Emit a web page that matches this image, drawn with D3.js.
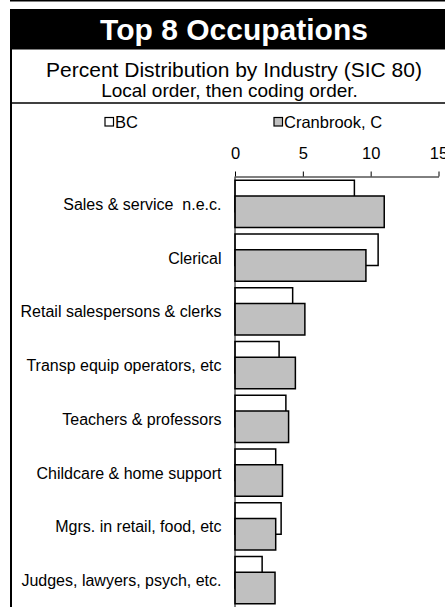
<!DOCTYPE html>
<html>
<head>
<meta charset="utf-8">
<script src="https://cdn.jsdelivr.net/npm/d3@7"></script>
<style>
  body { margin: 0; background: #fff; }
  svg { display: block; font-family: Arial, "Liberation Sans", sans-serif; }
</style>
</head>
<body>
<svg id="chart" width="445" height="607"></svg>
<script>
// data
const categories = [
  "Sales & service  n.e.c.",
  "Clerical",
  "Retail salespersons & clerks",
  "Transp equip operators, etc",
  "Teachers & professors",
  "Childcare & home support",
  "Mgrs. in retail, food, etc",
  "Judges, lawyers, psych, etc."
];
const seriesNames = ["BC", "Cranbrook, C"];
const bcValues = [8.8, 10.55, 4.25, 3.25, 3.75, 3.0, 3.4, 2.0];
const cranValues = [11.0, 9.65, 5.15, 4.45, 3.95, 3.5, 3.0, 2.95];
const tickValues = [0, 5, 10, 15];

const svg = d3.select("#chart");
const W = 445, H = 607;

// top rule + title band
svg.append("rect").attr("x", 10).attr("y", 0).attr("width", W - 10).attr("height", 1.5).attr("fill", "#000");
svg.append("rect").attr("x", 10).attr("y", 9).attr("width", W - 10).attr("height", 40.5).attr("fill", "#000");
svg.append("text")
  .attr("x", 234).attr("y", 40)
  .attr("text-anchor", "middle")
  .attr("fill", "#fff")
  .style("font-size", "30px").style("font-weight", "bold")
  .text("Top 8 Occupations");

// box borders
svg.append("line").attr("x1", 11).attr("x2", 11).attr("y1", 49).attr("y2", H)
  .attr("stroke", "#000").attr("stroke-width", 2);
svg.append("line").attr("x1", 10).attr("x2", W).attr("y1", 103).attr("y2", 103)
  .attr("stroke", "#000").attr("stroke-width", 1.5);

svg.append("text")
  .attr("x", 234).attr("y", 77)
  .attr("text-anchor", "middle")
  .style("font-size", "21px")
  .text("Percent Distribution by Industry (SIC 80)");
svg.append("text")
  .attr("x", 229.5).attr("y", 97)
  .attr("text-anchor", "middle")
  .style("font-size", "19px")
  .text("Local order, then coding order.");

// scales
const x = d3.scaleLinear().domain([0, 15]).range([235, 438.5]);
const y = d3.scaleBand().domain(categories).range([177, 607]).paddingInner(0).paddingOuter(0);
const barH = 31.5;
const groupOffset = (y.bandwidth() - barH * 1.5) / 2;

// legend
const legend = [
  {name: seriesNames[0], fill: "#fff", x: 105},
  {name: seriesNames[1], fill: "#c0c0c0", x: 274}
];
legend.forEach(d => {
  svg.append("rect").attr("x", d.x).attr("y", 117.5).attr("width", 8.5).attr("height", 8.5)
    .attr("fill", d.fill).attr("stroke", "#000").attr("stroke-width", 1.2);
  svg.append("text").attr("x", d.x + 10).attr("y", 127.5)
    .style("font-size", "16.5px").text(d.name);
});

// top axis
const axis = d3.axisTop(x).tickValues(tickValues).tickSize(5).tickPadding(13).tickSizeOuter(0);
const gx = svg.append("g").attr("transform", "translate(0,176.5)").call(axis);
gx.select(".domain").attr("stroke", "#000").attr("stroke-width", 1);
gx.selectAll(".tick line").attr("stroke", "#000");
gx.selectAll(".tick text").style("font-size", "16.5px").attr("fill", "#000")
  .style("font-family", "Arial, 'Liberation Sans', sans-serif");

// bars: BC behind, Cranbrook on top (50% overlap)
svg.append("g").selectAll("rect")
  .data(categories.map((c, i) => ({c, v: bcValues[i]})))
  .join("rect")
  .attr("x", x(0))
  .attr("y", d => y(d.c) + groupOffset)
  .attr("width", d => x(d.v) - x(0))
  .attr("height", barH)
  .attr("fill", "#fff").attr("stroke", "#000").attr("stroke-width", 1.5);

svg.append("g").selectAll("rect")
  .data(categories.map((c, i) => ({c, v: cranValues[i]})))
  .join("rect")
  .attr("x", x(0))
  .attr("y", d => y(d.c) + groupOffset + barH / 2)
  .attr("width", d => x(d.v) - x(0))
  .attr("height", barH)
  .attr("fill", "#c0c0c0").attr("stroke", "#000").attr("stroke-width", 1.5);

// category axis line and labels
svg.append("line").attr("x1", x(0)).attr("x2", x(0)).attr("y1", 176.5).attr("y2", H)
  .attr("stroke", "#000").attr("stroke-width", 1);
svg.append("g").selectAll("text")
  .data(categories)
  .join("text")
  .attr("x", 221.5)
  .attr("y", d => y(d) + y.bandwidth() / 2 + 6)
  .attr("text-anchor", "end")
  .style("font-size", "16px")
  .style("white-space", "pre")
  .text(d => d);
</script>
</body>
</html>
